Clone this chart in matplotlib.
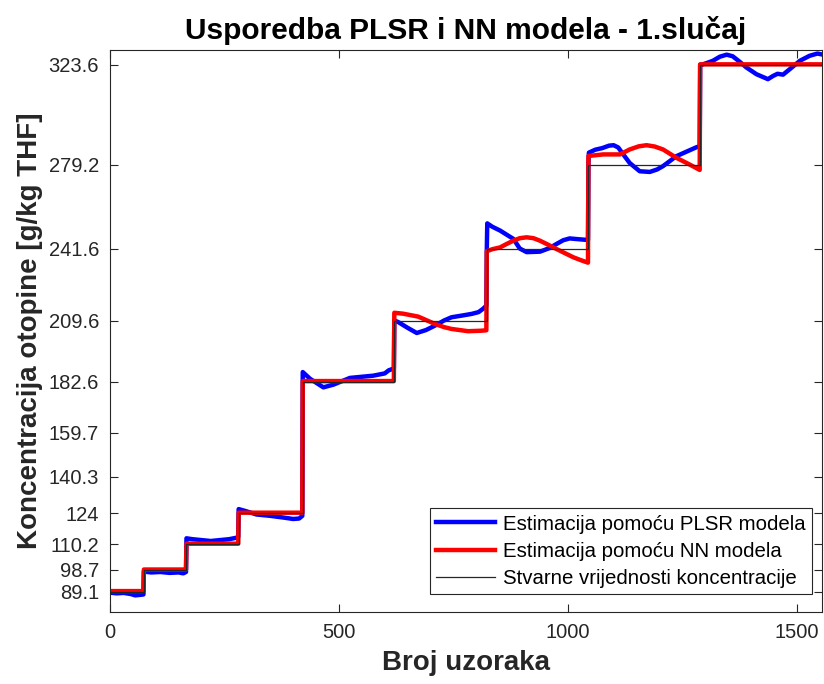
import matplotlib
matplotlib.use('Agg')
import matplotlib.pyplot as plt
import numpy as np

plt.rcParams['font.family'] = ['Liberation Sans', 'DejaVu Sans']

# Stvarne vrijednosti koncentracije (stepenice) i početni uzorci svake stepenice
koncentracije = [89.1, 98.7, 110.2, 124, 182.6, 209.6, 241.6, 279.2, 323.6]
pocetak_stepenice = [0, 74, 167, 281, 421, 621, 823, 1045, 1289]
broj_uzoraka = 1555

# Estimacija PLSR modela (uzorak, vrijednost)
plsr_x = [0, 15, 30, 45, 55, 65, 73,
          74, 90, 110, 130, 150, 160, 166,
          167, 180, 200, 220, 240, 260, 275, 280,
          281, 295, 320, 350, 380, 400, 413, 420,
          421, 437, 466, 488, 524, 575, 600, 609, 620,
          621, 630, 650, 670, 690, 710, 730, 746, 770, 790, 805, 815, 822,
          823, 824, 835, 852, 870, 881, 895, 910, 939, 960, 975, 990, 1004, 1020, 1044,
          1045, 1046, 1060, 1075, 1090, 1100, 1110, 1120, 1135, 1157, 1179, 1195, 1208, 1237, 1260, 1281, 1288,
          1289, 1292, 1305, 1317, 1332, 1347, 1360, 1375, 1390, 1412, 1437, 1448, 1458, 1470, 1485, 1507,
          1528, 1545, 1555]
plsr_y = [88.6, 88.3, 88.5, 88.0, 87.4, 87.6, 87.8,
          98.0, 97.6, 97.8, 97.4, 97.6, 97.2, 97.8,
          112.8, 112.4, 112.0, 111.6, 112.0, 112.4, 113.0, 113.4,
          125.8, 125.0, 123.4, 122.8, 122.0, 121.4, 121.6, 122.8,
          186.8, 183.8, 180.0, 181.2, 184.2, 185.2, 186.2, 187.6, 188.4,
          209.8, 209.0, 206.5, 204.2, 205.5, 207.5, 209.8, 211.2, 212.0, 212.7, 213.5, 215.0, 216.4,
          241.6, 253.0, 251.5, 249.8, 247.5, 246.1, 241.8, 240.2, 240.4, 242.0, 243.8, 245.5, 246.3, 246.0, 245.6,
          279.2, 284.5, 285.8, 286.5, 287.6, 287.8, 286.8, 284.0, 279.9, 276.2, 275.9, 277.0, 278.5, 282.9, 285.0, 286.9, 287.3,
          323.6, 323.6, 324.5, 325.4, 327.2, 328.1, 327.4, 325.0, 322.4, 319.4, 317.2, 318.6, 319.6, 319.2, 321.7, 325.4,
          327.6, 328.6, 328.2]

# Estimacija NN modela (uzorak, vrijednost)
nn_x = [0, 73,
        74, 166,
        167, 280,
        281, 420,
        421, 620,
        621, 640, 673, 690, 710, 730, 746, 782, 810, 822,
        823, 835, 852, 866, 881, 895, 910, 925, 939, 957, 975, 995, 1012, 1030, 1044,
        1045, 1077, 1114, 1135, 1155, 1172, 1190, 1208, 1237, 1266, 1288,
        1289, 1555]
nn_y = [89.3, 89.3,
        98.9, 98.9,
        110.4, 110.4,
        124.2, 124.2,
        182.8, 182.8,
        213.2, 212.8, 211.5, 210.0, 208.2, 206.8, 206.0, 205.0, 205.2, 205.4,
        240.6, 241.5, 242.3, 243.8, 245.3, 246.4, 246.8, 246.4, 245.3, 243.5, 241.6, 239.6, 237.9, 236.5, 235.5,
        283.0, 283.7, 283.7, 285.9, 287.3, 287.8, 287.2, 285.9, 282.2, 279.2, 276.8,
        323.8, 323.8]

oznake_y = [89.1, 98.7, 110.2, 124, 140.3, 159.7, 182.6, 209.6, 241.6, 279.2, 323.6]

fig = plt.figure(figsize=(8.24, 6.84), dpi=100)
ax = fig.add_axes([0.1335, 0.1053, 0.864, 0.821])

ax.plot(plsr_x, plsr_y, color='#0000ff', linewidth=3.2, label='Estimacija pomoću PLSR modela')
ax.plot(nn_x, nn_y, color='#ff0000', linewidth=3.2, label='Estimacija pomoću NN modela')

stvarne_x = pocetak_stepenice + [broj_uzoraka]
stvarne_y = koncentracije + [koncentracije[-1]]
ax.plot(stvarne_x, stvarne_y, drawstyle='steps-post', color='#262626', linewidth=0.9,
        label='Stvarne vrijednosti koncentracije')

ax.set_xlim(0, broj_uzoraka)
ax.set_ylim(80, 330)
ax.set_xticks([0, 500, 1000, 1500])
ax.set_yticks(oznake_y)
ax.set_yticklabels(['%g' % v for v in oznake_y])

ax.tick_params(direction='in', length=6, width=0.8, top=True, right=True,
               labelsize=14.5, colors='#262626', pad=8)
for s in ax.spines.values():
    s.set_color('#262626')
    s.set_linewidth(0.8)

ax.set_title('Usporedba PLSR i NN modela - 1.slučaj', fontsize=21.5, fontweight='bold', pad=8)
ax.set_xlabel('Broj uzoraka', fontsize=20, fontweight='bold', color='#262626', labelpad=6)
ax.set_ylabel('Koncentracija otopine [g/kg THF]', fontsize=20, fontweight='bold', color='#262626', labelpad=4)

leg = ax.legend(loc='lower right', bbox_to_anchor=(0.986, 0.032), fontsize=14.7,
                fancybox=False, framealpha=1, edgecolor='#262626', handlelength=2.9,
                borderpad=0.3, labelspacing=0.4, handletextpad=0.4, borderaxespad=0)
leg.get_frame().set_linewidth(0.8)

fig.savefig('out.png', dpi=100)
